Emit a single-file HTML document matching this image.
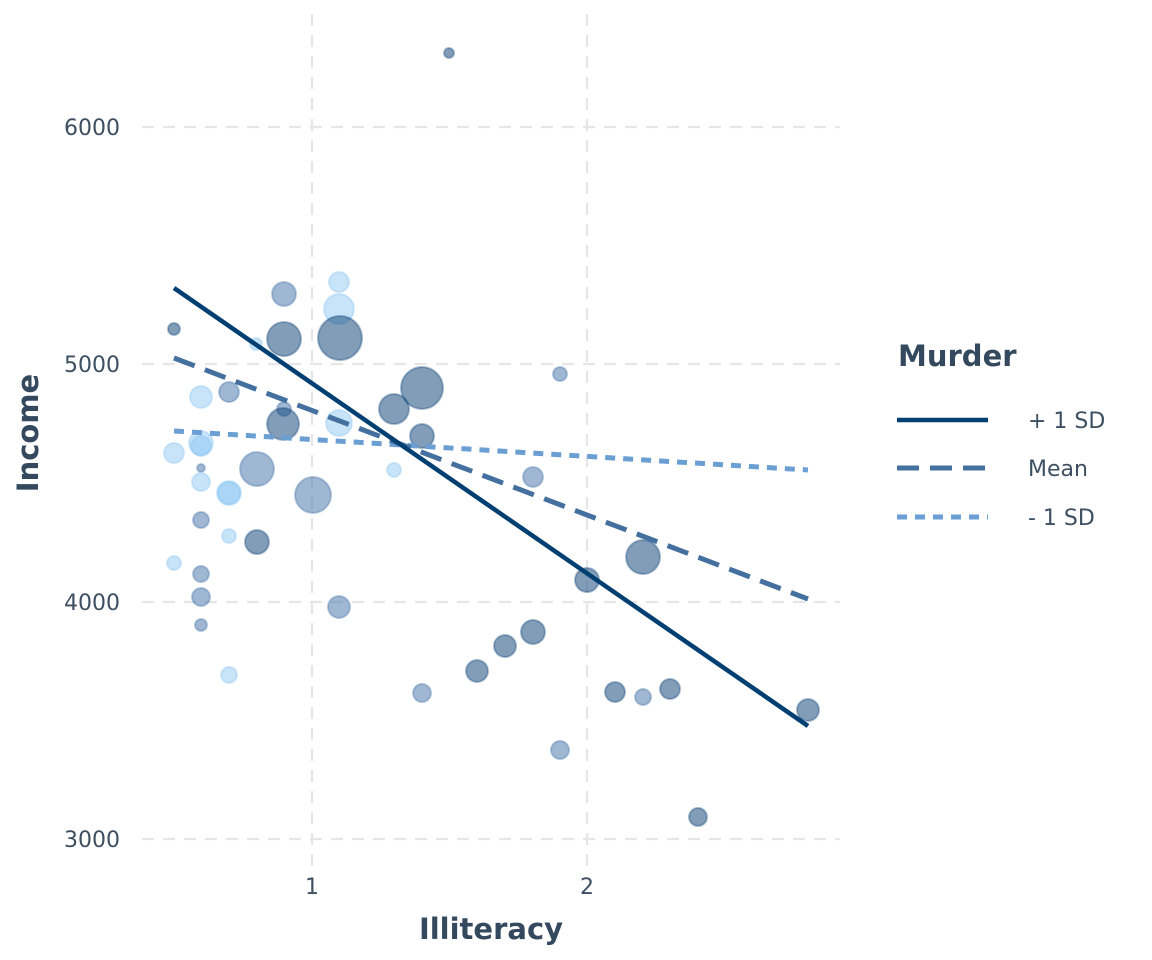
<!DOCTYPE html>
<html><head><meta charset="utf-8"><style>body{margin:0;background:#fff}svg{display:block}</style></head>
<body>
<svg width="1152" height="960" xmlns="http://www.w3.org/2000/svg" font-family="DejaVu Sans, Liberation Sans, sans-serif">
<rect width="1152" height="960" fill="#fff"/>
<g stroke="#e6e6e6" stroke-width="2.2" stroke-dasharray="12,9">
<line x1="142" x2="840" y1="127" y2="127"/><line x1="142" x2="840" y1="364" y2="364"/>
<line x1="142" x2="840" y1="602" y2="602"/><line x1="142" x2="840" y1="839" y2="839"/>
<line x1="312" x2="312" y1="14" y2="868"/><line x1="587" x2="587" y1="14" y2="868"/>
</g>
<g id="pts"></g>
<line x1="174" y1="431" x2="808" y2="470" stroke="#6b9fd4" stroke-width="5" stroke-dasharray="10,8"/>
<line x1="174" y1="358" x2="808" y2="599" stroke="#44709f" stroke-width="5" stroke-dasharray="22,11"/>
<line x1="174" y1="288" x2="808" y2="726" stroke="#003f72" stroke-width="4.5"/>
<g fill="#3e4f61" font-size="22" text-anchor="end">
<text x="120" y="135">6000</text><text x="120" y="372">5000</text><text x="120" y="610">4000</text><text x="120" y="847">3000</text>
</g>
<g fill="#3e4f61" font-size="22" text-anchor="middle"><text x="312" y="894">1</text><text x="587" y="894">2</text></g>
<text x="491" y="939" text-anchor="middle" font-size="29" font-weight="bold" fill="#34495e">Illiteracy</text>
<text transform="translate(38,433) rotate(-90)" text-anchor="middle" font-size="29" font-weight="bold" fill="#34495e">Income</text>
<text x="898" y="366" font-size="29" font-weight="bold" fill="#34495e">Murder</text>
<line x1="897" x2="988" y1="420" y2="420" stroke="#003f72" stroke-width="4.5"/>
<line x1="897" x2="988" y1="468" y2="468" stroke="#44709f" stroke-width="5" stroke-dasharray="22,11"/>
<line x1="897" x2="988" y1="517" y2="517" stroke="#6b9fd4" stroke-width="5" stroke-dasharray="10,8"/>
<g fill="#3e4f61" font-size="22"><text x="1028" y="428">+ 1 SD</text><text x="1028" y="476">Mean</text><text x="1028" y="525">- 1 SD</text></g>
</svg>
<script>
var P=[[174,329,6,'d'],[284,294,12,'m'],[339,282,10,'l'],[339,309,15,'l'],[340,338,22,'d'],[284,339,17,'d'],[256,344,6,'l'],[560,374,7,'m'],[201,397,11,'l'],[229,392,10,'m'],[422,388,21,'d'],[394,409,15,'d'],[284,409,7,'m'],[283,424,16,'d'],[339,423,13,'l'],[422,436,12,'d'],[201,443,12,'l'],[201,446,10,'l'],[174,453,10,'l'],[201,468,4,'m'],[201,482,9,'l'],[229,493,12,'l'],[229,493,11,'l'],[257,469,17,'m'],[313,495,18,'m'],[394,470,7,'l'],[533,477,10,'m'],[201,520,8,'m'],[229,536,7,'l'],[257,542,12,'d'],[174,563,7,'l'],[201,574,8,'m'],[201,597,9,'m'],[201,625,6,'m'],[339,607,11,'m'],[229,675,8,'l'],[449,53,5,'d'],[587,580,12,'d'],[643,557,17,'d'],[533,632,12,'d'],[505,646,11,'d'],[477,671,11,'d'],[422,693,9,'m'],[615,692,10,'d'],[643,697,8,'m'],[670,689,10,'d'],[808,710,11,'d'],[560,750,9,'m'],[698,817,9,'d']];
var C={d:'#0e4477',m:'#3f6fa6',l:'#86c3f2'},O={d:0.52,m:0.5,l:0.45};
var g=document.getElementById('pts'),s='';
P.forEach(function(p){s+='<circle cx="'+p[0]+'" cy="'+p[1]+'" r="'+p[2]+'" fill="'+C[p[3]]+'" fill-opacity="'+O[p[3]]+'" stroke="'+C[p[3]]+'" stroke-opacity="0.35" stroke-width="2"/>';});
g.innerHTML=s;
</script>
</body></html>
